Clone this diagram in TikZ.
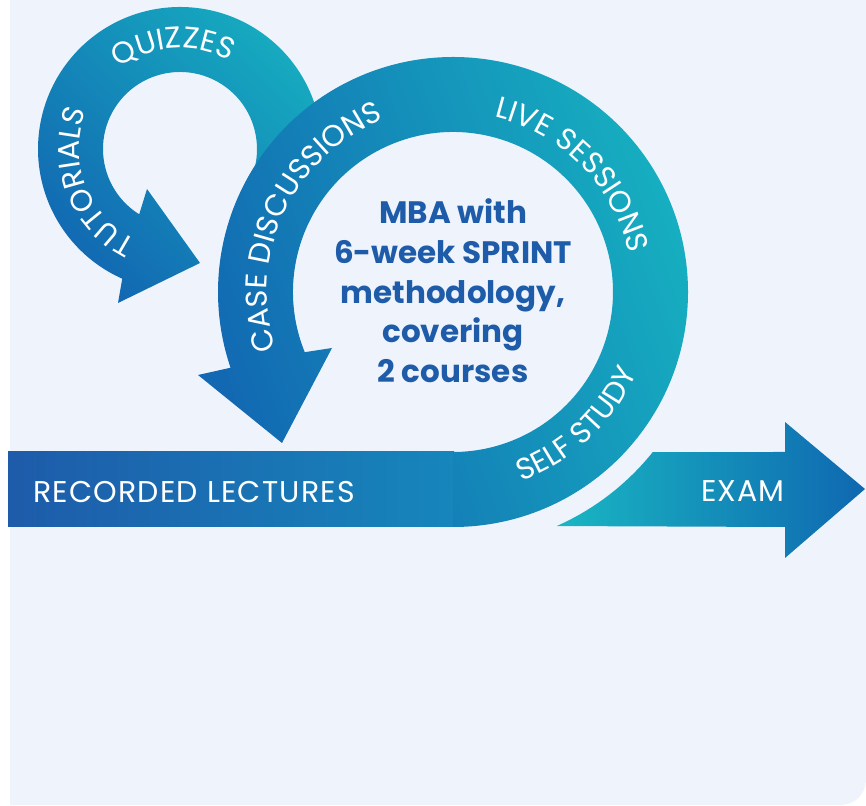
\documentclass[tikz,border=0pt]{standalone}
\usepackage{fontspec}
\setmainfont{Poppins}
\usetikzlibrary{decorations.text}
\definecolor{bgblue}{RGB}{239,244,252}
\definecolor{teal}{RGB}{22,174,192}
\definecolor{deepblue}{RGB}{18,104,178}
\definecolor{barleft}{RGB}{30,91,170}
\definecolor{barright}{RGB}{22,134,187}
\definecolor{examleft}{RGB}{25,182,195}
\definecolor{examright}{RGB}{15,104,176}
\definecolor{textblue}{RGB}{30,92,170}
\newcommand\lblfont{\fontsize{30}{32}\selectfont\addfontfeature{LetterSpace=4}}

\begin{document}
\begin{tikzpicture}[x=1pt,y=1pt,
  ring/.style={top color=teal,bottom color=deepblue,shading angle=#1},
  lbl/.style={font=\lblfont,text=white,inner sep=0pt},
  curvelbl/.style={decorate,decoration={text along path,text align=center,
    text color=white,text={|\lblfont|#1}}},
  mid/.style={font=\fontsize{31}{39.7}\selectfont\bfseries,text=textblue,align=center}]
   \useasboundingbox (0,0) rectangle (866,805);
   \fill[bgblue] (10,805) -- (866,805) -- (866,25)
    arc[start angle=0,end angle=-90,radius=25] -- (10,0) -- cycle;
   \coordinate (S) at (180,656);
   \coordinate (B) at (453,513);
   \shade[ring=-45] ([shift={(-38:142)}]S) arc[start angle=-38,end angle=246,radius=142]
    -- (118,502) -- (200,542) -- (147,616)
    -- ([shift={(238:77)}]S) arc[start angle=238,end angle=-38,radius=77] -- cycle;
   \shade[left color=barleft,right color=barright] (8,278) rectangle (454,353);
   \shade[ring=-70] ([shift={(-90:235)}]B) arc[start angle=-90,end angle=198.8,radius=235]
    -- (198,430) -- (282,362) -- (332,457)
    -- ([shift={(202.1:160)}]B) arc[start angle=202.1,end angle=-90,radius=160] -- cycle;
   \shade[left color=examleft,right color=examright]
    ([shift={(-66.1:256)}]B) arc[start angle=-66.1,end angle=-38.7,radius=256]
    -- (785,353) -- (785,383) -- (865,316) -- (785,247) -- (785,278) -- cycle;
   \path[curvelbl=QUIZZES] ([shift={(154:101)}]S) arc[start angle=154,end angle=34,radius=101];
   \path[curvelbl=TUTORIALS] ([shift={(256:101)}]S) arc[start angle=256,end angle=146,radius=101];
   \path[curvelbl=CASE DISCUSSIONS] ([shift={(212:186)}]B) arc[start angle=212,end angle=98,radius=186];
   \path[curvelbl=LIVE SESSIONS] ([shift={(94:180)}]B) arc[start angle=94,end angle=-5,radius=180];
   \path[curvelbl=SELF STUDY] ([shift={(-92:201)}]B) arc[start angle=-92,end angle=-2,radius=201];
   \node[lbl,anchor=base west] (rec) at (33,302) {RECORDED LECTURES};
   \node[lbl,anchor=base east] (exam) at (785,303) {EXAM};
   \node[mid] (mba) at (453,514) {MBA with\\6-week SPRINT\\methodology,\\covering\\2 courses};
\end{tikzpicture}
\end{document}
